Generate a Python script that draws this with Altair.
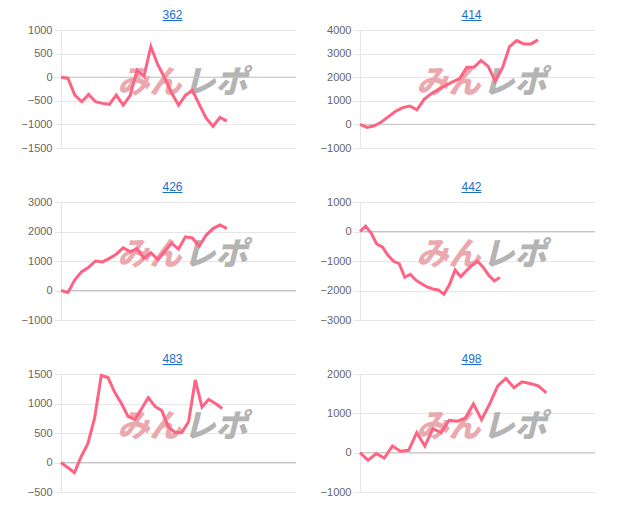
import altair as alt
import pandas as pd

titles = ["362", "414", "426", "442", "483", "498"]

s362 = [0, -20, -380, -520, -365, -520, -555, -575, -380, -590, -390, 150, 20, 650,
        265, -15, -330, -595, -385, -275, -575, -870, -1040, -850, -930]
s414 = [0, -130, -60, 100, 330, 560, 710, 780, 620, 1060, 1300, 1480, 1650, 1800,
        1940, 2420, 2420, 2710, 2460, 1830, 2390, 3300, 3550, 3410, 3410, 3580]
s426 = [0, -70, 360, 640, 790, 1000, 970, 1090, 1230, 1450, 1320, 1410, 1090, 1280,
        1050, 1330, 1600, 1410, 1820, 1780, 1500, 1880, 2100, 2220, 2100]
s442 = [0, 180, -50, -430, -520, -810, -1010, -1090, -1550, -1450, -1650, -1770,
        -1880, -1950, -1980, -2130, -1800, -1300, -1530, -1330, -1150, -1010, -1210,
        -1480, -1670, -1560]
s483 = [0, -85, -170, 100, 320, 750, 1475, 1440, 1190, 1000, 780, 730, 910, 1100,
        950, 880, 600, 510, 510, 690, 1400, 940, 1070, 1000, 915]
s498 = [0, -195, -25, -135, 170, 35, 60, 510, 170, 610, 510, 820, 800, 880, 1240,
        840, 1240, 1700, 1890, 1650, 1800, 1760, 1700, 1520]

series = [s362, s414, s426, s442, s483, s498]
x_max = [34, 33, 34, 42, 35, 29]
y_ticks = [
    [-1500, -1000, -500, 0, 500, 1000],
    [-1000, 0, 1000, 2000, 3000, 4000],
    [-1000, 0, 1000, 2000, 3000],
    [-3000, -2000, -1000, 0, 1000],
    [-500, 0, 500, 1000, 1500],
    [-1000, 0, 1000, 2000],
]
logo_left = "みん"
logo_right = "レポ"

W, H = 235, 118
LINE = "#ff6384"
LINK = "#1a6fc9"
GRID = "#e6e6e6"


def panel(title, vals, xmax, ticks):
    df = pd.DataFrame({"i": list(range(len(vals))), "v": vals})
    x = alt.X("i:Q", scale=alt.Scale(domain=[0, xmax], nice=False, zero=False), axis=None)
    y = alt.Y(
        "v:Q",
        scale=alt.Scale(domain=[ticks[0], ticks[-1]], nice=False, zero=False),
        axis=alt.Axis(
            values=ticks, title=None, grid=True, gridColor=GRID, domain=True,
            domainColor=GRID, tickColor=GRID, tickSize=7, labelPadding=2,
            labelColor="#666666", labelFontSize=11, labelFont="Liberation Sans",
            labelFlush=False, format="d",
        ),
    )
    one = pd.DataFrame({"a": [0]})
    cx = W / 2
    cy = H / 2
    wm_l = alt.Chart(one).mark_text(
        text=logo_left, font="Noto Sans CJK JP", fontSize=32, fontWeight=900,
        fontStyle="italic", color="#eaa9ae", align="right", baseline="middle",
    ).encode(x=alt.value(cx + 3), y=alt.value(cy - 6))
    wm_r = alt.Chart(one).mark_text(
        text=logo_right, font="Noto Sans CJK JP", fontSize=32, fontWeight=900,
        fontStyle="italic", color="#b4b4b4", align="left", baseline="middle",
    ).encode(x=alt.value(cx + 5), y=alt.value(cy - 6))
    zero = alt.Chart(pd.DataFrame({"v": [0]})).mark_rule(
        color="#c4c4c4", strokeWidth=1).encode(y=y)
    line = alt.Chart(df).mark_line(color=LINE, strokeWidth=3, strokeJoin="miter").encode(x=x, y=y)
    ttl = alt.Chart(one).mark_text(
        text=title, font="Liberation Sans", fontSize=12, color=LINK,
        align="center", baseline="alphabetic",
    ).encode(x=alt.value(cx - 6), y=alt.value(-11))
    ul = alt.Chart(one).mark_rule(color=LINK, strokeWidth=1).encode(
        x=alt.value(cx - 16), x2=alt.value(cx + 4), y=alt.value(-9.5))
    return alt.layer(wm_l, wm_r, zero, line, ttl, ul).properties(width=W, height=H)


panels = [panel(t, s, m, k) for t, s, m, k in zip(titles, series, x_max, y_ticks)]

chart = alt.concat(
    *panels, columns=2, spacing={"row": 54, "column": 64}, bounds="flush"
).properties(
    padding={"left": 13, "top": 1, "right": 5, "bottom": 5}
).configure_view(stroke=None)

chart.save("out.html", embed_options={"renderer": "svg", "actions": False})
